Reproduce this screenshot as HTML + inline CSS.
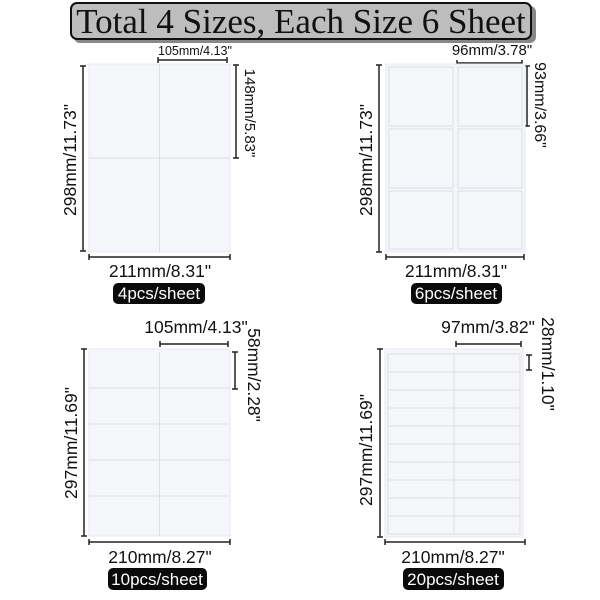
<!DOCTYPE html>
<html><head><meta charset="utf-8"><style>html,body{margin:0;padding:0;background:#fff}svg{display:block}</style></head>
<body>
<svg width="600" height="600" xmlns="http://www.w3.org/2000/svg" font-family="Liberation Sans, sans-serif">
<rect x="0" y="0" width="600" height="600" fill="#fff"/>
<!-- title -->
<rect x="74" y="6" width="462" height="37" rx="6" fill="#888"/>
<rect x="71" y="3" width="460" height="36" rx="6" fill="#bdbdbd" stroke="#111" stroke-width="2"/>
<text x="301" y="33" font-family="Liberation Serif, serif" font-size="35" text-anchor="middle" fill="#111">Total 4 Sizes, Each Size 6 Sheet</text>

<g stroke="#222" stroke-width="1.5" fill="none">
<path d="M83 66V251M80 66H86M80 251H86"/>
<path d="M89 257H230M89 254V260M230 254V260"/>
<path d="M158 60H227M158 57V63M227 57V63"/>
<path d="M236 65V158M233 65H239M233 158H239"/>
<path d="M379 65V252M376 65H382M376 252H382"/>
<path d="M386 257H524M386 254V260M524 254V260"/>
<path d="M457 63H522M457 60V66M522 60V66"/>
<path d="M527 66V126M524 66H530M524 126H530"/>
<path d="M84 349V536M81 349H87M81 536H87"/>
<path d="M89 542H230M89 539V545M230 539V545"/>
<path d="M160 344H228M160 341V347M228 341V347"/>
<path d="M235 352V389M232 352H238M232 389H238"/>
<path d="M380 349V537M377 349H383M377 537H383"/>
<path d="M385 542H525M385 539V545M525 539V545"/>
<path d="M456 344H521M456 341V347M521 341V347"/>
<path d="M529 355V370M526 355H532M526 370H532"/>
</g>

<g fill="#f5f6fa" stroke="#e8e9ee" stroke-width="1">
<rect x="89" y="64" width="141" height="188"/>
<rect x="386" y="64" width="139" height="188"/>
<rect x="89" y="349" width="141" height="187"/>
<rect x="385" y="349" width="138" height="188"/>
</g>
<g stroke="#dcdee5" stroke-width="1" fill="none">
<path d="M159.5 64V252M89 158H230"/>
<rect x="389" y="67" width="64" height="59"/><rect x="458" y="67" width="64" height="59"/>
<rect x="389" y="129" width="64" height="59"/><rect x="458" y="129" width="64" height="59"/>
<rect x="389" y="191" width="64" height="58"/><rect x="458" y="191" width="64" height="58"/>
<path d="M159.5 352V536M89 388H230M89 424H230M89 460H230M89 496H230"/>
<path d="M454 353V534M388 354H520V534H388Z"/>
<path d="M388 372H520M388 390H520M388 408H520M388 426H520M388 444H520M388 462H520M388 480H520M388 498H520M388 516H520"/>
</g>

<g font-size="17.5" fill="#111" text-anchor="middle">
<text x="195" y="55" font-size="12.5">105mm/4.13"</text>
<text x="160" y="277">211mm/8.31"</text>
<text transform="translate(76,160) rotate(-90)">298mm/11.73"</text>
<text transform="translate(245,113) rotate(90)" font-size="15">148mm/5.83"</text>

<text x="492" y="55" font-size="15">96mm/3.78"</text>
<text x="456" y="277">211mm/8.31"</text>
<text transform="translate(372,160) rotate(-90)">298mm/11.73"</text>
<text transform="translate(535,105) rotate(90)" font-size="16">93mm/3.66"</text>

<text x="196" y="333">105mm/4.13"</text>
<text x="160" y="563">210mm/8.27"</text>
<text transform="translate(77,443) rotate(-90)">297mm/11.69"</text>
<text transform="translate(248,375) rotate(90)">58mm/2.28"</text>

<text x="488" y="333">97mm/3.82"</text>
<text x="453" y="563">210mm/8.27"</text>
<text transform="translate(372,450) rotate(-90)">297mm/11.69"</text>
<text transform="translate(542,364) rotate(90)">28mm/1.10"</text>
</g>

<g fill="#0a0a0a">
<rect x="113" y="283" width="92" height="21" rx="5"/>
<rect x="411" y="283" width="91" height="21" rx="5"/>
<rect x="108" y="568" width="99" height="22" rx="5"/>
<rect x="403" y="568" width="101" height="22" rx="5"/>
</g>
<g font-size="17" fill="#fff" text-anchor="middle">
<text x="159" y="299">4pcs/sheet</text>
<text x="456" y="299">6pcs/sheet</text>
<text x="157" y="585">10pcs/sheet</text>
<text x="453" y="585">20pcs/sheet</text>
</g>
</svg>
</body></html>
